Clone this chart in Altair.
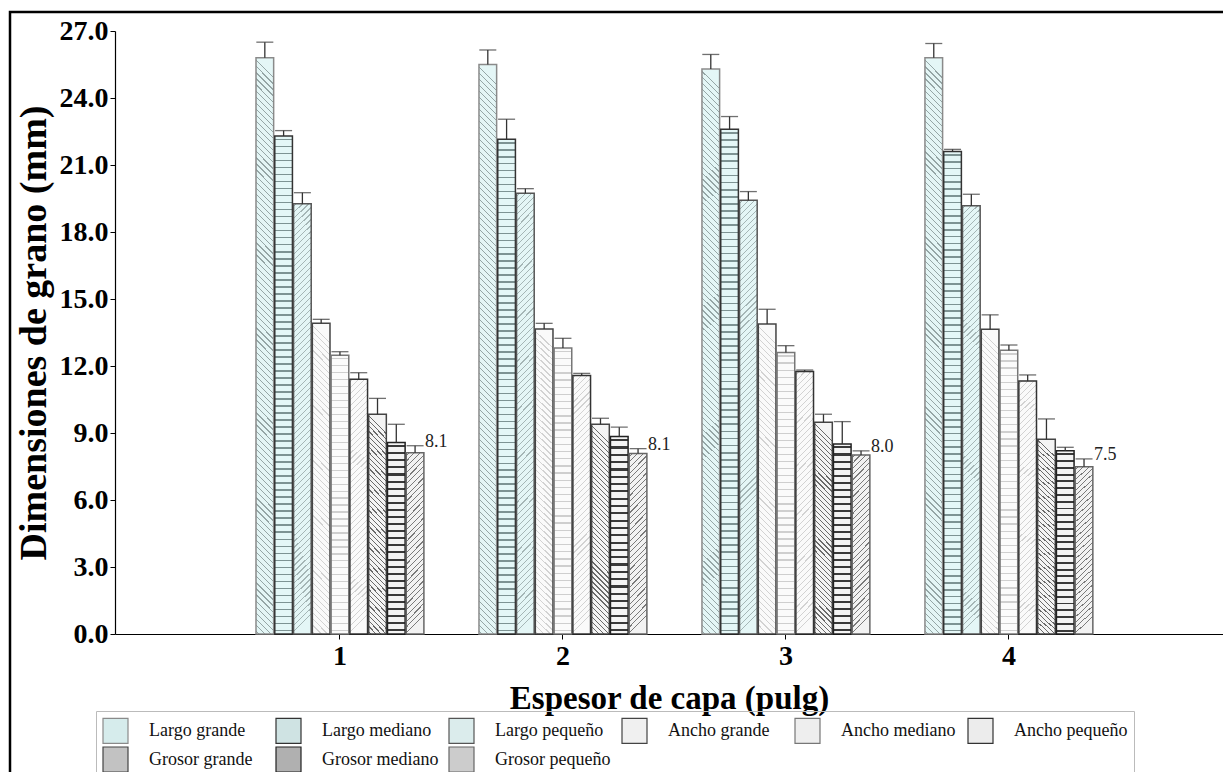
import altair as alt
import pandas as pd

# ---- data ----
espesor = ["1", "2", "3", "4"]
series = ["Largo grande", "Largo mediano", "Largo pequeño",
          "Ancho grande", "Ancho mediano", "Ancho pequeño",
          "Grosor grande", "Grosor mediano", "Grosor pequeño"]

largo_grande = [25.8, 25.5, 25.3, 25.8]
largo_mediano = [22.3, 22.15, 22.6, 21.6]
largo_pequeno = [19.26, 19.73, 19.42, 19.17]
ancho_grande = [13.91, 13.66, 13.88, 13.64]
ancho_mediano = [12.48, 12.81, 12.60, 12.70]
ancho_pequeno = [11.41, 11.58, 11.75, 11.33]
grosor_grande = [9.84, 9.39, 9.48, 8.72]
grosor_mediano = [8.57, 8.84, 8.51, 8.20]
grosor_pequeno = [8.12, 8.08, 8.02, 7.49]

err_largo_grande = [0.70, 0.65, 0.65, 0.64]
err_largo_mediano = [0.24, 0.90, 0.57, 0.10]
err_largo_pequeno = [0.50, 0.21, 0.39, 0.52]
err_ancho_grande = [0.18, 0.25, 0.66, 0.65]
err_ancho_mediano = [0.16, 0.43, 0.31, 0.24]
err_ancho_pequeno = [0.29, 0.09, 0.07, 0.27]
err_grosor_grande = [0.71, 0.27, 0.36, 0.91]
err_grosor_mediano = [0.82, 0.42, 1.00, 0.16]
err_grosor_pequeno = [0.31, 0.22, 0.18, 0.35]

y_ticks = [0, 3, 6, 9, 12, 15, 18, 21, 24, 27]

values = [largo_grande, largo_mediano, largo_pequeno, ancho_grande, ancho_mediano,
          ancho_pequeno, grosor_grande, grosor_mediano, grosor_pequeno]
errors = [err_largo_grande, err_largo_mediano, err_largo_pequeno, err_ancho_grande,
          err_ancho_mediano, err_ancho_pequeno, err_grosor_grande, err_grosor_mediano,
          err_grosor_pequeno]

rows = []
for s, vals, errs in zip(series, values, errors):
    for e, v, d in zip(espesor, vals, errs):
        rows.append({"espesor": e, "serie": s, "valor": v, "err": d})
df = pd.DataFrame(rows)

# ---- styling ----
legend_fills = ["#d6ecec", "#cfe3e3", "#dbecec", "#f0f0f0", "#eeeeee", "#ececec",
                "#c2c2c2", "#b0b0b0", "#cccccc"]
strokes = ["#8a8a8a", "#333333", "#555555", "#444444", "#777777", "#333333",
           "#444444", "#222222", "#666666"]

PX_PER_UNIT = 603 / 27.0
BAR_W = 17.6

# hatch styles: (background, line colour, period px, line width px, direction)
hatch = {
    "Largo grande": ("#e4f6f6", "#95a6a6", 6.0, 1.2, "back"),
    "Largo mediano": ("#e4f7f7", "#7d9393", 7.0, 1.6, "h"),
    "Largo pequeño": ("#e4f6f6", "#a5b6b6", 6.0, 1.1, "fwd"),
    "Ancho grande": ("#fafafa", "#d2d2d2", 6.0, 1.1, "back"),
    "Ancho mediano": ("#fbfbfb", "#cfcfcf", 7.0, 1.3, "h"),
    "Ancho pequeño": ("#fafafa", "#d2d2d2", 6.0, 1.1, "fwd"),
    "Grosor grande": ("#f4f4f4", "#6a6a6a", 5.0, 1.2, "back"),
    "Grosor mediano": ("#f4f4f4", "#3a3a3a", 7.0, 2.0, "h"),
    "Grosor pequeño": ("#f2f2f2", "#7a7a7a", 5.5, 1.1, "fwd"),
}


def stripes(bg, line, width_px, height_px, period, lw, direction):
    """Hatch fill built as a linear gradient with hard stops (bg-line-bg per period)."""
    n = max(1, round(height_px / period))
    half = 0.5 * lw / period
    stops = []
    for i in range(n):
        a = i / n
        m1 = (i + 0.5 - half) / n
        m2 = (i + 0.5 + half) / n
        c = (i + 1) / n
        stops += [{"offset": a, "color": bg}, {"offset": m1, "color": bg},
                  {"offset": m1, "color": line}, {"offset": m2, "color": line},
                  {"offset": m2, "color": bg}, {"offset": c, "color": bg}]
    k = width_px / height_px
    if direction == "h":
        x1, x2 = 0, 0
    elif direction == "back":
        x1, x2 = k, 0
    else:
        x1, x2 = 0, k
    return {"gradient": "linear", "x1": x1, "y1": 0, "x2": x2, "y2": 1, "stops": stops}


bar_conditions = []
for s, vals in zip(series, values):
    mean_h = sum(vals) / len(vals) * PX_PER_UNIT
    bg, line, period, lw, d = hatch[s]
    bar_conditions.append({"test": f"datum.serie === '{s}'",
                           "value": stripes(bg, line, BAR_W, mean_h, period, lw, d)})

SERIF = "Liberation Serif"

legend = alt.Legend(
    title=None, orient="none", legendX=-19, legendY=680, direction="horizontal",
    columns=6, gridAlign="all", columnPadding=7, rowPadding=-3,
    symbolType="square", symbolSize=625, symbolStrokeWidth=1.2,
    labelFont=SERIF, labelFontSize=18, labelColor="#111", labelOffset=20,
    padding=6, strokeColor="#bbbbbb", labelLimit=300,
)

x_enc = alt.X(
    "espesor:N",
    scale=alt.Scale(domain=espesor, paddingInner=0.247, paddingOuter=0.608, align=0.52),
    axis=alt.Axis(
        labelAngle=0, labelFont=SERIF, labelFontSize=28, labelFontWeight="bold",
        labelColor="black", labelPadding=3, tickSize=5, tickColor="black",
        domainColor="black", domainWidth=1.2,
        title="Espesor de capa (pulg)", titleFont=SERIF, titleFontSize=33,
        titleFontWeight="bold", titleColor="black", titleY=74,
        titleBaseline="alphabetic",
    ),
)
xoff = alt.XOffset("serie:N", scale=alt.Scale(domain=series, paddingInner=0.06))

y_scale = alt.Scale(domain=[0, 27], nice=False, zero=True)

base = alt.Chart(df).encode(x=x_enc, xOffset=xoff).transform_calculate(
    top="datum.valor + datum.err"
)

bars = base.mark_bar(strokeWidth=1.5).encode(
    y=alt.Y(
        "valor:Q", scale=y_scale,
        axis=alt.Axis(
            values=y_ticks, format=".1f", labelFont=SERIF, labelFontSize=28,
            labelFontWeight="bold", labelColor="black", labelPadding=2,
            tickSize=5, tickColor="black", domainColor="black", domainWidth=1.2,
            grid=False, title="Dimensiones de grano (mm)", titleFont=SERIF,
            titleFontSize=38, titleFontWeight="bold", titleColor="black",
            titleX=-70, titleBaseline="alphabetic", titleAngle=270,
        ),
    ),
    fill=alt.Fill("serie:N", scale=alt.Scale(domain=series, range=legend_fills),
                  legend=legend, condition=bar_conditions),
    stroke=alt.Stroke("serie:N", scale=alt.Scale(domain=series, range=strokes), legend=legend),
)

err_rules = base.mark_rule(color="#333333", strokeWidth=1.3).encode(
    y=alt.Y("valor:Q", scale=y_scale), y2="top:Q"
)
err_caps = base.mark_tick(color="#333333", thickness=1.3, size=17, orient="horizontal").encode(
    y=alt.Y("top:Q", scale=y_scale)
)
labels = base.mark_text(
    align="left", baseline="middle", dx=10, dy=-4, font=SERIF, fontSize=18, color="#222222"
).encode(
    y=alt.Y("top:Q", scale=y_scale),
    text=alt.Text("valor:Q", format=".1f"),
).transform_filter(alt.datum.serie == "Grosor pequeño")

frame = alt.Chart(alt.Data(values=[{"k": 1}])).mark_rect(
    fillOpacity=0, stroke="black", strokeWidth=2.5
).encode(
    x=alt.value(-105), x2=alt.value(1400), y=alt.value(-19), y2=alt.value(900)
)

chart = alt.layer(frame, bars, err_rules, err_caps, labels).properties(
    width=1108, height=603,
    autosize=alt.AutoSizeParams(type="none"),
    padding={"left": 107, "top": 23, "right": 0, "bottom": 138},
    background="white",
).configure_view(stroke=None)

chart.save("out.html", embed_options={"renderer": "svg", "actions": False})
